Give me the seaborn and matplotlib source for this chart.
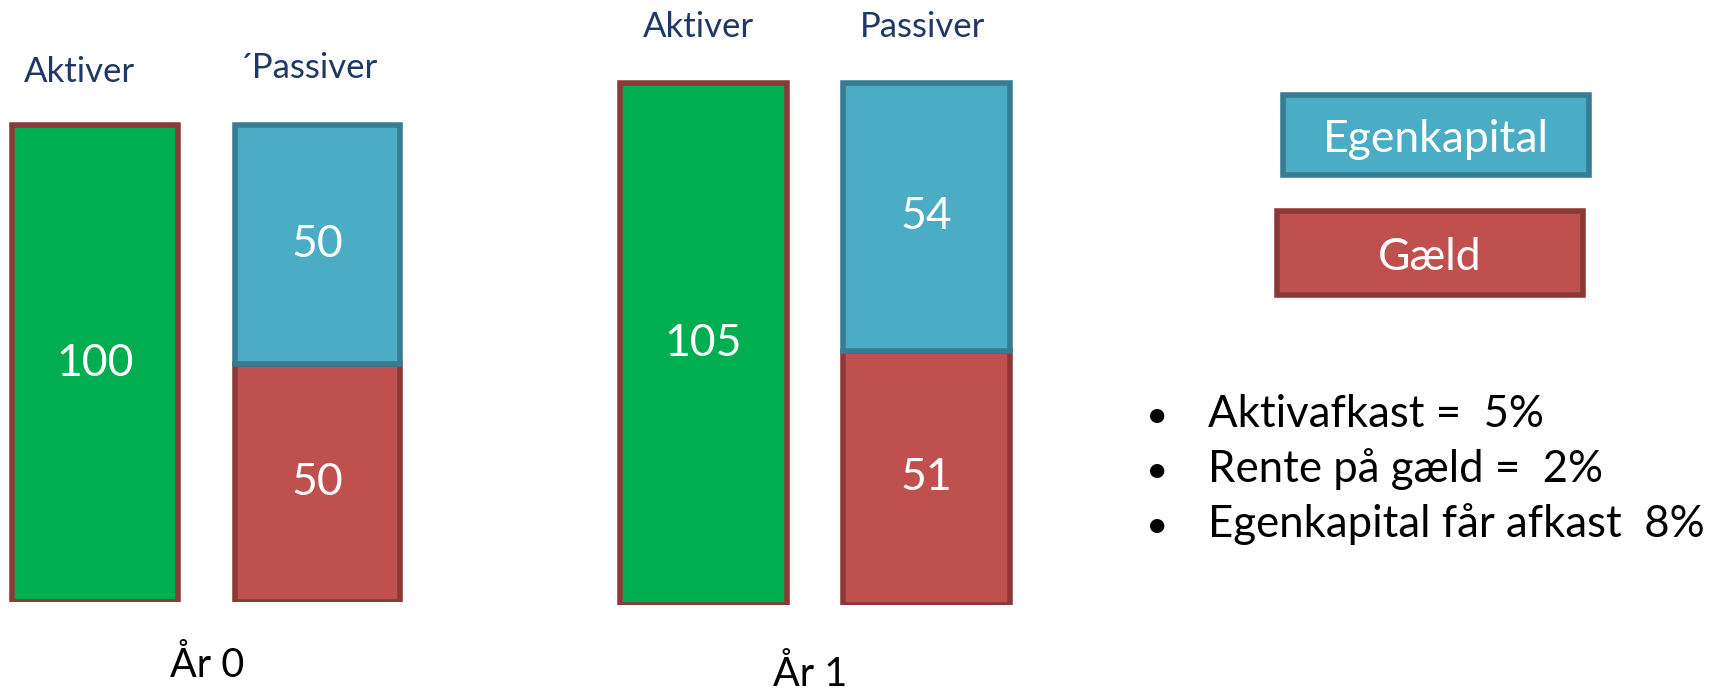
import matplotlib
matplotlib.use("Agg")
import matplotlib.pyplot as plt
from matplotlib.patches import Rectangle
import seaborn as sns

# Balance sheet before and after one year
years = ["År 0", "År 1"]
sides = ["Aktiver", "Passiver"]
side_titles = [["Aktiver", "´Passiver"], ["Aktiver", "Passiver"]]
aktiver = [100, 105]
gaeld = [50, 51]
egenkapital = [50, 54]
legend_labels = ["Egenkapital", "Gæld"]
bullets = ["Aktivafkast =  5%", "Rente på gæld =  2%", "Egenkapital får afkast  8%"]

GREEN, GREEN_EDGE = "#00ae4f", "#8c3a38"
BLUE, BLUE_EDGE = "#4bacc6", "#367d91"
RED, RED_EDGE = "#c0504d", "#8c3836"
NAVY = "#1f3864"

sns.set_theme(style="white")
plt.rcParams["font.family"] = ["Lato", "DejaVu Sans"]

W, H = 1710, 692
fig = plt.figure(figsize=(W / 100, H / 100), dpi=100)


def fx(px):
    return px / W


def fy(py):
    return 1 - py / H


# panel layout: centre of first bar, bar spacing, zero line, px per unit, ylim
panels = [
    dict(x0=95, step=222.5, zero=602, scale=4.77, ymax=120),
    dict(x0=703.5, step=223, zero=604.5, scale=4.97, ymax=115),
]
bar_w = 0.746
lw = 4.0

axes = []
for i, p in enumerate(panels):
    left = p["x0"] - 0.4 * p["step"]
    ax = fig.add_axes([fx(left), (H - p["zero"]) / H,
                       1.8 * p["step"] / W, p["ymax"] * p["scale"] / H])
    sns.barplot(x=[sides[0]], y=[aktiver[i]], order=sides, color=GREEN,
                saturation=1, edgecolor=GREEN_EDGE, linewidth=lw,
                width=bar_w, errorbar=None, ax=ax)
    sns.barplot(x=[sides[1]], y=[gaeld[i]], order=sides, color=RED,
                saturation=1, edgecolor=RED_EDGE, linewidth=lw,
                width=bar_w, errorbar=None, ax=ax)
    sns.barplot(x=[sides[1]], y=[egenkapital[i]], order=sides, color=BLUE,
                saturation=1, edgecolor=BLUE_EDGE, linewidth=lw,
                width=bar_w, errorbar=None, bottom=[gaeld[i]], ax=ax)
    for cont in ax.containers:
        ax.bar_label(cont, label_type="center", color="white", fontsize=32)
    ax.set_xlim(-0.4, 1.4)
    ax.set_ylim(0, p["ymax"])
    ax.set_axis_off()
    axes.append(ax)

# column titles above bars and year captions below
title_pos = [[(79.5, 82), (309, 78)], [(698.5, 37), (923, 37)]]
for i in range(2):
    for j in range(2):
        x, y = title_pos[i][j]
        fig.text(fx(x), fy(y), side_titles[i][j], ha="center", va="baseline",
                 fontsize=25, color=NAVY)
year_pos = [(207, 677), (810, 686)]
for yr, (x, y) in zip(years, year_pos):
    fig.text(fx(x), fy(y), yr, ha="center", va="baseline", fontsize=28.5,
             color="black")

# legend boxes
legend_boxes = [
    (1283, 95, 1589, 175, BLUE, BLUE_EDGE, 1436, 152),
    (1277, 211, 1583, 295, RED, RED_EDGE, 1430, 270),
]
for label, (x1, y1, x2, y2, fc, ec, tx, ty) in zip(legend_labels, legend_boxes):
    fig.patches.append(Rectangle((fx(x1), fy(y2)), fx(x2) - fx(x1), fy(y1) - fy(y2),
                                 transform=fig.transFigure, facecolor=fc,
                                 edgecolor=ec, linewidth=lw))
    fig.text(fx(tx), fy(ty), label, ha="center", va="baseline", fontsize=32,
             color="white")

# assumptions listed as bullets
for k, line in enumerate(bullets):
    base = 427 + 55 * k
    fig.text(fx(1157), fy(base), "•", ha="center", va="baseline", fontsize=28,
             color="black")
    fig.text(fx(1208), fy(base), line, ha="left", va="baseline", fontsize=31.5,
             color="black")

fig.savefig("out.png", dpi=100, facecolor="white")
